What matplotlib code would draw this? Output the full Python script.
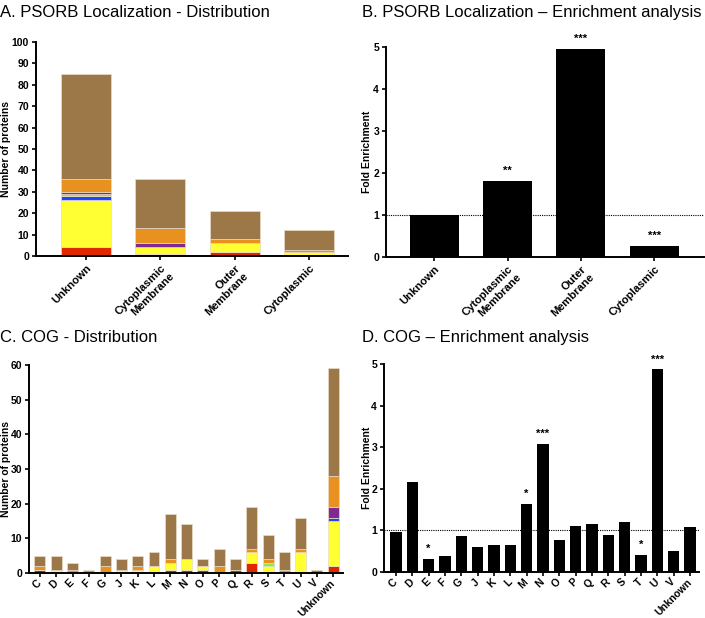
import matplotlib
matplotlib.use("Agg")
import matplotlib.pyplot as plt
import matplotlib.transforms as mtransforms
import numpy as np

plt.rcParams['font.family'] = ['Liberation Sans', 'DejaVu Sans']

# stack order bottom -> top
layer_colors = ['#e02800', '#ffff33', '#2244ff', '#88ee44', '#7f2a90', '#e89020', '#9c7848']

# A. PSORB localization distribution
psorb_cats = ['Unknown', 'Cytoplasmic\nMembrane', 'Outer\nMembrane', 'Cytoplasmic']
psorb_layers = [
    [4, 1, 2, 0],      # red
    [22, 3, 4, 2],     # yellow
    [2, 0, 0, 0],      # blue
    [1, 0, 0, 0],      # green
    [1, 2, 0, 0],      # purple
    [6, 7, 2, 1],      # orange
    [49, 23, 13, 9],   # brown
]

# B. PSORB enrichment
psorb_fold = [1.0, 1.81, 4.95, 0.27]
psorb_sig = ['', '**', '***', '***']

# C. COG distribution
cog_cats = ['C', 'D', 'E', 'F', 'G', 'J', 'K', 'L', 'M', 'N', 'O', 'P', 'Q', 'R', 'S', 'T', 'U', 'V', 'Unknown']
cog_layers = [
    [0, 0, 0, 0, 0, 0, 0, 0, 1, 1, 1, 0, 1, 3, 0, 0, 0, 0, 2],     # red
    [0, 1, 0, 0, 0, 1, 1, 2, 2, 3, 1, 0, 0, 3, 2, 0, 6, 0, 13],    # yellow
    [1, 0, 0, 0, 0, 0, 0, 0, 0, 0, 0, 0, 0, 0, 0, 0, 0, 0, 1],     # blue
    [0, 0, 0, 0, 0, 0, 0, 0, 0, 0, 0, 0, 0, 0, 1, 0, 0, 0, 0],     # green
    [0, 0, 0, 0, 0, 0, 0, 0, 0, 0, 0, 0, 0, 0, 0, 0, 0, 0, 3],     # purple
    [1, 0, 1, 1, 2, 0, 1, 0, 1, 0, 0, 2, 0, 1, 1, 1, 1, 0, 9],     # orange
    [3, 4, 2, 0, 3, 3, 3, 4, 13, 10, 2, 5, 3, 12, 7, 5, 9, 1, 31], # brown
]

# D. COG enrichment
cog_fold = [0.95, 2.16, 0.31, 0.38, 0.87, 0.59, 0.65, 0.65, 1.63, 3.07, 0.77,
            1.11, 1.16, 0.9, 1.2, 0.42, 4.87, 0.5, 1.08]
cog_sig = ['', '', '*', '', '', '', '', '', '*', '***', '', '', '', '', '', '*', '***', '', '']

W, H = 705, 618
fig = plt.figure(figsize=(W / 100, H / 100), dpi=100)


def px_axes(left, right, top, bottom):
    return fig.add_axes([left / W, 1 - bottom / H, (right - left) / W, (bottom - top) / H])


def style(ax):
    for s in ['top', 'right']:
        ax.spines[s].set_visible(False)
    for s in ['left', 'bottom']:
        ax.spines[s].set_linewidth(1.4)
    ax.tick_params(width=1.2, length=3, labelsize=7.5, pad=2)
    for lab in ax.get_yticklabels():
        lab.set_fontweight('bold')


def ylabel(ax, text, xpix):
    ax.set_ylabel(text, fontsize=7.5, fontweight='bold', va='center')
    tr = mtransforms.blended_transform_factory(fig.transFigure, ax.transAxes)
    ax.yaxis.set_label_coords(xpix / W, 0.5, transform=tr)


def stacked(ax, cats, layers, width):
    x = np.arange(len(cats))
    bottom = np.zeros(len(cats))
    for vals, col in zip(layers, layer_colors):
        vals = np.array(vals, dtype=float)
        ax.bar(x, vals, width, bottom=bottom, color=col, edgecolor='#e8dcc8', linewidth=0.5)
        bottom += vals


def xlabels(ax, cats, size, va='top'):
    ax.set_xticks(np.arange(len(cats)))
    ax.set_xticklabels(cats, rotation=45, ha='right', va=va, rotation_mode='anchor',
                       fontsize=size, fontweight='bold')


# panel A
axA = px_axes(36, 348, 42, 256)
stacked(axA, psorb_cats, psorb_layers, 0.67)
axA.set_xlim(-0.67, 3.52)
axA.set_ylim(0, 100)
axA.set_yticks(range(0, 101, 10))
style(axA)
xlabels(axA, psorb_cats, 8)
ylabel(axA, 'Number of proteins', 6)
fig.text(0, 1 - 5 / H, 'A. PSORB Localization - Distribution', fontsize=12, va='top')

# panel B
axB = px_axes(386, 704, 47, 257)
xb = np.arange(len(psorb_cats))
axB.bar(xb, psorb_fold, 0.67, color='black')
for xi, v, s in zip(xb, psorb_fold, psorb_sig):
    if s:
        axB.text(xi, v + 0.12, s, ha='center', va='bottom', fontsize=8, fontweight='bold')
axB.axhline(1, color='black', lw=0.8, ls=(0, (1, 1)), zorder=0)
axB.set_xlim(-0.66, 3.68)
axB.set_ylim(0, 5)
axB.set_yticks(range(6))
style(axB)
xlabels(axB, psorb_cats, 8)
ylabel(axB, 'Fold Enrichment', 367)
fig.text(362 / W, 1 - 5 / H, 'B. PSORB Localization \u2013 Enrichment analysis', fontsize=12, va='top')

# panel C
axC = px_axes(29, 343, 365, 573)
stacked(axC, cog_cats, cog_layers, 0.67)
axC.set_xlim(-0.67, 18.6)
axC.set_ylim(0, 60)
axC.set_yticks(range(0, 61, 10))
style(axC)
xlabels(axC, cog_cats, 7.5, va='center')
axC.tick_params(axis='x', pad=3)
ylabel(axC, 'Number of proteins', 6)
fig.text(0, 1 - 330 / H, 'C. COG - Distribution', fontsize=12, va='top')

# panel D
axD = px_axes(384, 699, 364, 572)
xd = np.arange(len(cog_cats))
axD.bar(xd, cog_fold, 0.7, color='black')
for xi, v, s in zip(xd, cog_fold, cog_sig):
    if s:
        axD.text(xi, v + 0.12, s, ha='center', va='bottom', fontsize=8, fontweight='bold')
axD.axhline(1, color='black', lw=0.8, ls=(0, (1, 1)), zorder=0)
axD.set_xlim(-0.73, 18.55)
axD.set_ylim(0, 5)
axD.set_yticks(range(6))
style(axD)
xlabels(axD, cog_cats, 7.5, va='center')
axD.tick_params(axis='x', pad=3)
ylabel(axD, 'Fold Enrichment', 367)
fig.text(362 / W, 1 - 330 / H, 'D. COG \u2013 Enrichment analysis', fontsize=12, va='top')

fig.savefig('out.png', dpi=100)
